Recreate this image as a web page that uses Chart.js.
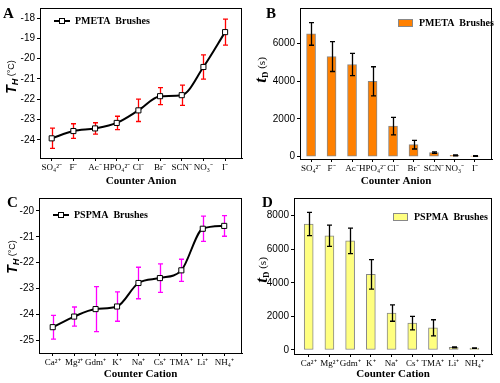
<!DOCTYPE html>
<html>
<head>
<meta charset="utf-8">
<script src="https://cdn.jsdelivr.net/npm/chart.js@4/dist/chart.umd.min.js"></script>
<style>
  body { margin: 0; background: #fff; }
  .panel { position: absolute; }
</style>
</head>
<body>
<div class="panel" style="left:0;top:0;width:250px;height:190px"><canvas id="cA"></canvas></div>
<div class="panel" style="left:250px;top:0;width:250px;height:190px"><canvas id="cB"></canvas></div>
<div class="panel" style="left:0;top:190px;width:250px;height:193px"><canvas id="cC"></canvas></div>
<div class="panel" style="left:250px;top:190px;width:250px;height:193px"><canvas id="cD"></canvas></div>
<script>
// data
const anions = ['SO₄²⁻', 'F⁻', 'Ac⁻', 'HPO₄²⁻', 'Cl⁻', 'Br⁻', 'SCN⁻', 'NO₃⁻', 'I⁻'];
const cations = ['Ca²⁺', 'Mg²⁺', 'Gdm⁺', 'K⁺', 'Na⁺', 'Cs⁺', 'TMA⁺', 'Li⁺', 'NH₄⁺'];

const thAnion = [-23.93, -23.57, -23.44, -23.17, -22.55, -21.85, -21.8, -20.41, -18.69];
const thAnionErr = [0.5, 0.36, 0.28, 0.33, 0.55, 0.42, 0.5, 0.6, 0.64];
const tdAnion = [6500, 5300, 4880, 3990, 1620, 640, 220, 70, 40];
const tdAnionErr = [600, 790, 585, 770, 460, 230, 40, 25, 15];

const thCation = [-24.5, -24.09, -23.8, -23.7, -22.79, -22.6, -22.3, -20.69, -20.58];
const thCationErr = [0.46, 0.37, 0.87, 0.57, 0.61, 0.55, 0.43, 0.49, 0.4];
const tdCation = [7500, 6800, 6500, 4500, 2200, 1600, 1320, 150, 110];
const tdCationErr = [690, 630, 760, 880, 490, 400, 480, 30, 20];

const thAnionTicks = [-24, -23, -22, -21, -20, -19, -18];
const tdAnionTicks = [0, 2000, 4000, 6000];
const thCationTicks = [-25, -24, -23, -22, -21, -20];
const tdCationTicks = [0, 2000, 4000, 6000, 8000];

const serif = '"Liberation Serif", "Times New Roman", serif';
const sans = '"Liberation Sans", Arial, sans-serif';

// error bars, frame, panel letter, legend and y title
const decor = {
  id: 'decor',
  beforeDatasetsDraw(chart, args, o) {
    if (o.errLayer === 'below') drawErr(chart, o);
  },
  afterDatasetsDraw(chart, args, o) {
    if (o.errLayer !== 'below') drawErr(chart, o);
  },
  afterDraw(chart, args, o) {
    const ctx = chart.ctx, a = chart.chartArea;
    ctx.save();
    ctx.strokeStyle = '#000';
    ctx.lineWidth = 1;
    ctx.strokeRect(a.left + 0.5, a.top + 0.5, a.right - a.left - 1, a.bottom - a.top);

    // panel letter
    ctx.fillStyle = '#000';
    ctx.font = 'bold 15px ' + serif;
    ctx.textBaseline = 'middle';
    ctx.textAlign = 'left';
    ctx.fillText(o.letter, o.letterX, o.letterY);

    // legend
    const lg = o.legend;
    if (lg.kind === 'line') {
      ctx.beginPath();
      ctx.lineWidth = 2;
      ctx.moveTo(lg.x, lg.y);
      ctx.lineTo(lg.x + 16, lg.y);
      ctx.stroke();
      ctx.lineWidth = 1;
      ctx.fillStyle = '#fff';
      ctx.fillRect(lg.x + 5.5, lg.y - 2.5, 5, 5);
      ctx.strokeRect(lg.x + 5.5, lg.y - 2.5, 5, 5);
    } else {
      ctx.fillStyle = lg.color;
      ctx.fillRect(lg.x, lg.y - 3.5, 15, 7);
      ctx.strokeStyle = '#888';
      ctx.strokeRect(lg.x + 0.5, lg.y - 3.5, 14, 7);
    }
    ctx.fillStyle = '#000';
    ctx.font = 'bold 10px ' + serif;
    ctx.fillText(lg.text, lg.x + 21, lg.y + 0.5);

    // rotated y title
    ctx.translate(o.title.x, o.title.y);
    ctx.rotate(-Math.PI / 2);
    let w = 0;
    o.title.parts.forEach(p => { ctx.font = p.font; w += ctx.measureText(p.text).width; });
    let x = -w / 2;
    o.title.parts.forEach(p => {
      ctx.font = p.font;
      ctx.fillText(p.text, x, p.dy);
      x += ctx.measureText(p.text).width;
    });
    ctx.restore();
  }
};

function drawErr(chart, o) {
  const ctx = chart.ctx;
  const meta = chart.getDatasetMeta(0);
  const ys = chart.scales.y;
  const vals = chart.data.datasets[0].data;
  ctx.save();
  ctx.strokeStyle = o.errColor;
  ctx.lineWidth = o.errWidth;
  meta.data.forEach((el, i) => {
    const v = vals[i].y, e = o.errors[i];
    const x = Math.round(el.x) + 0.5;
    const y1 = ys.getPixelForValue(v + e), y2 = ys.getPixelForValue(v - e);
    ctx.beginPath();
    ctx.moveTo(x, y1); ctx.lineTo(x, y2);
    ctx.moveTo(x - o.cap, y1); ctx.lineTo(x + o.cap, y1);
    ctx.moveTo(x - o.cap, y2); ctx.lineTo(x + o.cap, y2);
    ctx.stroke();
  });
  ctx.restore();
}

function makeChart(id, cfg) {
  const area = cfg.area;
  const xTitle = cfg.labels === anions ? 'Counter Anion' : 'Counter Cation';
  const ds = cfg.kind === 'line' ? {
    type: 'line',
    data: cfg.values.map((v, i) => ({ x: i, y: v })),
    borderColor: '#000',
    borderWidth: 2,
    pointStyle: 'rect',
    pointRadius: 3.6,
    pointBackgroundColor: '#fff',
    pointBorderColor: '#000',
    pointBorderWidth: 1,
    cubicInterpolationMode: 'monotone'
  } : {
    type: 'bar',
    data: cfg.values.map((v, i) => ({ x: i, y: v })),
    backgroundColor: cfg.color,
    borderColor: '#888',
    borderWidth: 1,
    borderSkipped: false,
    barThickness: 9
  };
  return new Chart(document.getElementById(id), {
    data: { datasets: [ds] },
    options: {
      responsive: true,
      maintainAspectRatio: false,
      animation: false,
      layout: { padding: { top: area.top, right: area.right, left: 0, bottom: 0 } },
      plugins: {
        legend: { display: false },
        tooltip: { enabled: false },
        decor: {
          errors: cfg.errors, errColor: cfg.errColor, errWidth: cfg.errWidth || 1.3,
          cap: cfg.cap || 2.5, errLayer: cfg.kind === 'line' ? 'below' : 'above',
          letter: cfg.letter, letterX: cfg.letterX, letterY: cfg.letterY,
          legend: cfg.legend, title: cfg.title
        }
      },
      scales: {
        x: {
          type: 'linear',
          offset: false,
          min: cfg.xMin, max: cfg.xMax,
          afterFit: s => { s.height = area.xh; },
          afterBuildTicks: s => { s.ticks = cfg.labels.map((l, i) => ({ value: i })); },
          ticks: {
            autoSkip: false, maxRotation: 0, padding: 1,
            color: '#000',
            font: { family: serif, size: 9 },
            callback: v => cfg.labels[v]
          },
          grid: { drawOnChartArea: false, tickLength: 3, color: '#000', offset: false },
          border: { color: '#000' },
          title: {
            display: true, text: xTitle, color: '#000',
            font: { family: serif, size: 11, weight: 'bold' },
            padding: { top: 0, bottom: cfg.xTitlePad }
          }
        },
        y: {
          min: cfg.yMin, max: cfg.yMax,
          afterFit: s => { s.width = area.left; },
          afterBuildTicks: s => { s.ticks = cfg.ticks.map(v => ({ value: v })); },
          ticks: { color: '#000', padding: 2, font: { family: sans, size: 10 }, callback: v => String(v) },
          grid: { drawOnChartArea: false, tickLength: 3, color: '#000' },
          border: { color: '#000' }
        }
      }
    },
    plugins: [decor]
  });
}

const thTitle = (x, y) => ({
  x, y, parts: [
    { text: 'T', font: 'italic bold 14px ' + sans, dy: 0 },
    { text: 'H', font: 'italic bold 9px ' + sans, dy: 4 },
    { text: ' (°C)', font: '9px ' + sans, dy: 0 }
  ]
});
const tdTitle = (x, y) => ({
  x, y, parts: [
    { text: 't', font: 'italic bold 17px ' + serif, dy: 0 },
    { text: 'D', font: 'bold 9px ' + serif, dy: 4 },
    { text: ' (s)', font: '11px ' + serif, dy: 0 }
  ]
});

makeChart('cA', {
  kind: 'line', labels: anions, values: thAnion, errors: thAnionErr,
  errColor: '#ff0000', ticks: thAnionTicks, yMin: -24.9, yMax: -17.5,
  xMin: -0.54, xMax: 8.78,
  area: { left: 40, top: 4, right: 8, xh: 32 }, xTitlePad: 2,
  letter: 'A', letterX: 3, letterY: 14,
  legend: { kind: 'line', x: 54, y: 21, text: 'PMETA  Brushes' },
  title: thTitle(12, 77)
});
makeChart('cB', {
  kind: 'bar', labels: anions, values: tdAnion, errors: tdAnionErr,
  errColor: '#000', color: '#ff8000', ticks: tdAnionTicks, yMin: -120, yMax: 7870,
  xMin: -0.54, xMax: 8.83,
  area: { left: 50, top: 4, right: 8, xh: 31 }, xTitlePad: 2,
  letter: 'B', letterX: 16, letterY: 14,
  legend: { kind: 'box', x: 148, y: 23, color: '#ff8000', text: 'PMETA  Brushes' },
  title: tdTitle(12, 70)
});
makeChart('cC', {
  kind: 'line', labels: cations, values: thCation, errors: thCationErr,
  errColor: '#ff00ff', ticks: thCationTicks, yMin: -25.5, yMax: -19.5,
  xMin: -0.64, xMax: 8.83,
  area: { left: 39, top: 7, right: 8, xh: 30 }, xTitlePad: 2,
  letter: 'C', letterX: 7, letterY: 13,
  legend: { kind: 'line', x: 53, y: 25, text: 'PSPMA  Brushes' },
  title: thTitle(13, 67)
});
makeChart('cD', {
  kind: 'bar', labels: cations, values: tdCation, errors: tdCationErr,
  errColor: '#000', color: '#ffff80', ticks: tdCationTicks, yMin: -240, yMax: 9050,
  xMin: -0.71, xMax: 8.85,
  area: { left: 44, top: 7, right: 8, xh: 29 }, xTitlePad: 2,
  letter: 'D', letterX: 12, letterY: 13,
  legend: { kind: 'box', x: 143, y: 27, color: '#ffff80', text: 'PSPMA  Brushes' },
  title: tdTitle(13, 80)
});
</script>
</body>
</html>
